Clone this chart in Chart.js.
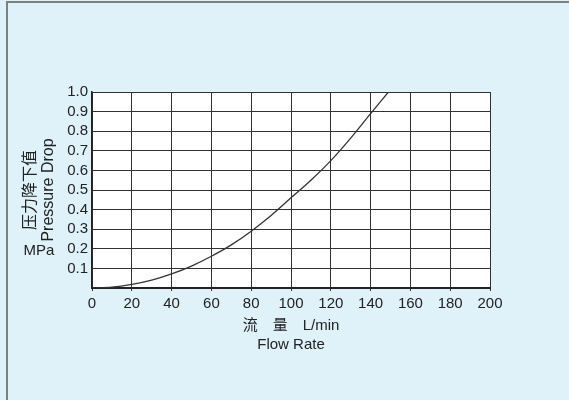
<!DOCTYPE html>
<html>
<head>
<meta charset="utf-8">
<script src="https://cdn.jsdelivr.net/npm/chart.js@4/dist/chart.umd.min.js"></script>
<style>
    html, body { margin: 0; padding: 0; width: 569px; height: 400px; overflow: hidden; background: #dff2fa; }
    .frame { position: absolute; left: 6px; top: 1px; right: 0; bottom: 0; border-left: 2px solid #7f7f7f; border-top: 2px solid #7f7f7f; background: #dff2fa; }
    #pressureChart { position: absolute; left: 0; top: 0; }
</style>
</head>
<body>
<div class="frame"></div>
<canvas id="pressureChart" width="569" height="400"></canvas>
<script>
const flowRate = [0, 10, 20, 30, 40, 50, 60, 70, 80, 90, 100, 110, 120, 130, 140, 149];
const pressureDrop = [0, 0.004, 0.018, 0.04, 0.072, 0.112, 0.162, 0.22, 0.29, 0.37, 0.46, 0.55, 0.65, 0.765, 0.89, 1.0];
const xTitle = ["流\u3000量\u3000L/min", "Flow Rate"];
const yTitle = ["压力降下值", "Pressure Drop"];
const unitLabel = "MPa";

const FONT = "'Liberation Sans', Arial, 'Noto Sans CJK SC', sans-serif";

document.addEventListener("DOMContentLoaded", function () {
    const ctx = document.getElementById("pressureChart").getContext("2d");

    const plotBackground = {
        id: "plotBackground",
        beforeDraw(chart) {
            const a = chart.chartArea;
            const c = chart.ctx;
            c.save();
            c.fillStyle = "#ffffff";
            c.fillRect(a.left, a.top, a.right - a.left, a.bottom - a.top);
            c.restore();
        },
        afterDraw(chart) {
            const c = chart.ctx;
            c.save();
            c.fillStyle = "#222";
            c.font = "15px " + FONT;
            c.textAlign = "center";
            c.textBaseline = "middle";
            c.fillText(unitLabel, 39, 251);
            c.restore();
        }
    };

    new Chart(ctx, {
        type: "line",
        data: {
            datasets: [
                {
                    data: flowRate.map((x, i) => ({ x: x, y: pressureDrop[i] })),
                    borderColor: "#333",
                    borderWidth: 1.3,
                    pointRadius: 0,
                    cubicInterpolationMode: "monotone",
                    fill: false
                }
            ]
        },
        options: {
            responsive: false,
            animation: false,
            devicePixelRatio: 1,
            layout: { padding: { top: 92, right: 79, left: 0, bottom: 0 } },
            plugins: {
                legend: { display: false },
                tooltip: { enabled: false }
            },
            scales: {
                x: {
                    type: "linear",
                    min: 0,
                    max: 200,
                    afterFit: (s) => { s.height = 112; },
                    ticks: { stepSize: 20, autoSkip: false, maxRotation: 0, padding: 4, color: "#222", font: { family: FONT, size: 15 } },
                    grid: { color: "#333", lineWidth: 1, tickLength: 3 },
                    border: { color: "#222", width: 2 },
                    title: {
                        display: true,
                        text: xTitle,
                        color: "#222",
                        font: { family: FONT, size: 15, lineHeight: 19 / 15 },
                        padding: { top: 0, bottom: 46 }
                    }
                },
                y: {
                    min: 0,
                    max: 1,
                    afterFit: (s) => { s.width = 92; },
                    ticks: {
                        stepSize: 0.1,
                        autoSkip: false,
                        padding: 4,
                        color: "#222",
                        font: { family: FONT, size: 15 },
                        callback: (v) => (v === 0 ? "" : v.toFixed(1))
                    },
                    grid: { color: "#333", lineWidth: 1, tickLength: 0 },
                    border: { color: "#222", width: 1.5 },
                    title: {
                        display: true,
                        text: yTitle,
                        color: "#222",
                        font: { family: FONT, size: 16, lineHeight: 18 / 16 },
                        padding: { top: 22, bottom: 0 }
                    }
                }
            }
        },
        plugins: [plotBackground]
    });
});
</script>
</body>
</html>
